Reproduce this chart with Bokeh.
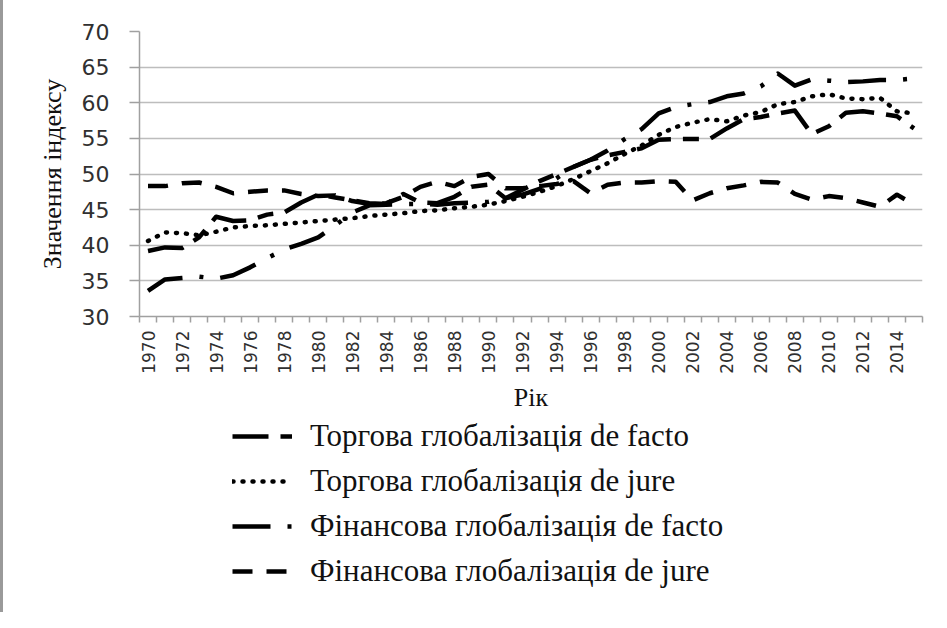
from bokeh.plotting import figure
from bokeh.models import Range1d, FixedTicker, Legend, LegendItem, Div
from bokeh.layouts import column, row
from bokeh.embed import file_html
from bokeh.resources import INLINE

years = list(range(1970, 2016))
trade_facto = [39.2, 39.7, 39.6, 41.1, 44.0, 43.4, 43.5, 44.3, 44.6, 46.0,
               47.1, 46.7, 46.3, 45.9, 45.8, 47.2, 46.0, 45.9, 46.8, 48.2,
               48.5, 46.6, 47.8, 49.0, 50.0, 51.0, 52.0, 52.6, 53.1, 53.6,
               54.8, 54.9, 54.9, 54.9, 56.4, 57.7, 58.0, 58.5, 58.9, 55.6,
               56.7, 58.6, 58.8, 58.5, 58.1, 56.4]
trade_jure = [40.6, 41.8, 41.7, 41.4, 41.9, 42.5, 42.7, 42.8, 43.0, 43.2,
              43.4, 43.6, 43.8, 44.1, 44.3, 44.5, 44.8, 44.9, 45.2, 45.4,
              45.7, 46.2, 46.8, 47.5, 48.3, 49.3, 50.4, 51.5, 52.8, 54.0,
              55.5, 56.6, 57.2, 57.7, 57.4, 58.2, 58.7, 59.8, 60.1, 60.9,
              61.2, 60.6, 60.5, 60.7, 58.8, 58.5]
fin_facto = [33.6, 35.2, 35.4, 35.6, 35.3, 35.8, 36.9, 38.2, 39.4, 40.2,
             41.1, 42.8, 44.6, 45.6, 45.7, 45.8, 45.8, 45.7, 45.9, 46.0,
             46.1, 46.6, 47.1, 47.9, 49.4, 51.0, 52.0, 53.3, 54.9, 56.3,
             58.5, 59.4, 59.8, 60.1, 60.9, 61.3, 62.3, 64.1, 62.4, 63.3,
             63.1, 62.9, 63.0, 63.2, 63.2, 63.4]
fin_jure = [48.3, 48.3, 48.7, 48.8, 48.2, 47.3, 47.5, 47.7, 47.7, 47.2,
            46.9, 47.0, 46.2, 45.8, 45.9, 46.8, 48.2, 48.9, 48.3, 49.6,
            50.0, 48.0, 48.0, 48.3, 48.6, 49.0, 47.3, 48.5, 48.8, 48.8,
            49.0, 48.9, 46.3, 47.3, 48.0, 48.4, 48.9, 48.8, 47.2, 46.4,
            46.9, 46.6, 46.0, 45.4, 47.1, 45.7]
series_names = ["Торгова глобалізація de facto",
                "Торгова глобалізація de jure",
                "Фінансова глобалізація de facto",
                "Фінансова глобалізація de jure"]
y_ticks = [30, 35, 40, 45, 50, 55, 60, 65, 70]
x_label_years = [y for y in years if y % 2 == 0]
x_title = "Рік"
y_title = "Значення індексу"

styles = [dict(line_dash="36 12 16 12"),
          dict(line_dash="1 9", line_cap="round"),
          dict(line_dash="38 17 4 17"),
          dict(line_dash="20 14")]
lw = 4.5

p = figure(width=927, height=414, output_backend="svg", toolbar_location=None,
           x_range=Range1d(years[0] - 0.5, years[-1] + 0.5),
           y_range=Range1d(30, 70),
           min_border_left=136, min_border_right=8,
           min_border_top=31, min_border_bottom=95)
p.outline_line_color = None
p.background_fill_color = "white"
p.border_fill_color = "white"

# x axis
p.xaxis.ticker = FixedTicker(ticks=x_label_years,
                             minor_ticks=[y - 0.5 for y in years] + [years[-1] + 0.5])
p.xaxis.major_tick_line_color = None
p.xaxis.major_tick_out = 6
p.xaxis.major_tick_in = 0
p.xaxis.minor_tick_line_color = "#a0a0a0"
p.xaxis.minor_tick_line_width = 1.5
p.xaxis.minor_tick_out = 6
p.xaxis.minor_tick_in = 0
p.xaxis.axis_line_color = "#a0a0a0"
p.xaxis.axis_line_width = 1.5
p.xaxis.major_label_orientation = 3.14159265 / 2
p.xaxis.major_label_text_font = "DejaVu Sans"
p.xaxis.major_label_text_font_size = "17px"
p.xaxis.major_label_text_color = "#303030"
p.xaxis.major_label_standoff = 8
p.xaxis.axis_label = x_title
p.xaxis.axis_label_text_font = "Liberation Serif"
p.xaxis.axis_label_text_font_size = "26px"
p.xaxis.axis_label_text_font_style = "normal"
p.xaxis.axis_label_text_color = "#111111"
p.xaxis.axis_label_standoff = 6

# y axis
p.yaxis.ticker = FixedTicker(ticks=y_ticks)
p.yaxis.major_tick_out = 10
p.yaxis.major_tick_in = 0
p.yaxis.major_tick_line_color = "#a0a0a0"
p.yaxis.major_tick_line_width = 1.5
p.yaxis.minor_tick_line_color = None
p.yaxis.axis_line_color = "#a0a0a0"
p.yaxis.axis_line_width = 1.5
p.yaxis.major_label_text_font = "DejaVu Sans"
p.yaxis.major_label_text_font_size = "22px"
p.yaxis.major_label_text_color = "#303030"
p.yaxis.major_label_standoff = 20
p.yaxis.axis_label = y_title
p.yaxis.axis_label_text_font = "Liberation Serif"
p.yaxis.axis_label_text_font_size = "26px"
p.yaxis.axis_label_text_font_style = "normal"
p.yaxis.axis_label_text_color = "#111111"
p.yaxis.axis_label_standoff = 12

p.xgrid.grid_line_color = None
p.ygrid.grid_line_color = "#bdbdbd"
p.ygrid.grid_line_width = 1.5

for vals, st in zip([trade_facto, trade_jure, fin_facto, fin_jure], styles):
    p.line(years, vals, line_color="black", line_width=lw, line_join="round", **st)

# legend panel (separate svg figure so the legend is not clipped)
leg_h = 195
p2 = figure(width=927, height=leg_h, output_backend="svg", toolbar_location=None,
            x_range=Range1d(0, 783), y_range=Range1d(0, leg_h),
            min_border_left=136, min_border_right=8, min_border_top=0,
            min_border_bottom=0, x_axis_type=None, y_axis_type=None)
p2.outline_line_color = None
p2.xgrid.grid_line_color = None
p2.ygrid.grid_line_color = None
leg_renderers = [p2.line([-100, -90], [-100, -100], line_color="black", line_width=lw,
                         line_join="round", **st) for st in styles]
legend = Legend(items=[LegendItem(label=n, renderers=[r])
                       for n, r in zip(series_names, leg_renderers)],
                location=(93, 20), orientation="vertical")
legend.label_text_font = "Liberation Serif"
legend.label_text_font_size = "31px"
legend.label_text_color = "#111111"
legend.glyph_width = 60
legend.glyph_height = 36
legend.label_height = 36
legend.label_standoff = 18
legend.spacing = 9
legend.padding = 0
legend.margin = 0
legend.border_line_color = None
legend.background_fill_alpha = 0
p2.add_layout(legend)

bar = Div(width=3, height=612, margin=0, styles={"background-color": "#9a9a9a"})
layout = row(bar, column(p, p2, spacing=0), spacing=0)

open("out.html", "w").write(file_html(layout, INLINE))
